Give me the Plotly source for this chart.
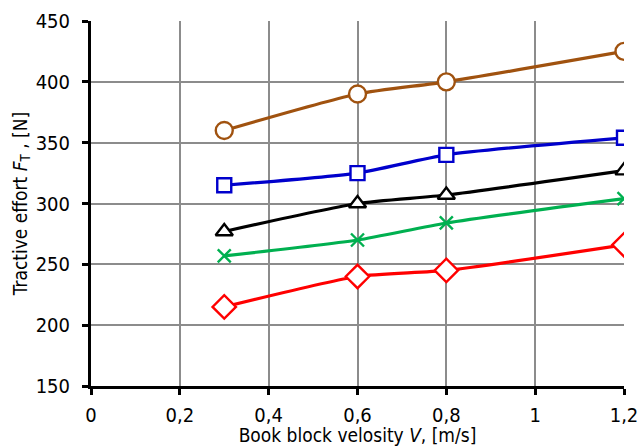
import plotly.graph_objects as go

velocity = [0.3, 0.6, 0.8, 1.2]
series_brown = [360, 390, 400, 425]
series_blue = [315, 325, 340, 354]
series_black = [277, 300, 307, 327]
series_green = [257, 270, 284, 304]
series_red = [215, 240, 245, 266]

x_ticks = [0, 0.2, 0.4, 0.6, 0.8, 1.0, 1.2]
x_tick_labels = ["0", "0,2", "0,4", "0,6", "0,8", "1", "1,2"]
y_ticks = [150, 200, 250, 300, 350, 400, 450]

FONT = "DejaVu Sans Condensed, Liberation Sans Narrow, Arial Narrow, Liberation Sans, sans-serif"

specs = [
    (series_brown, "#A0520F", "circle-open", 17),
    (series_blue, "#0000CC", "square-open", 14),
    (series_black, "#000000", "triangle-up-open", 15),
    (series_green, "#00B050", "x-thin-open", 13),
    (series_red, "#FF0000", "diamond-open", 18),
]

fig = go.Figure()
for vals, col, sym, sz in specs:
    fig.add_trace(go.Scatter(
        x=velocity, y=vals, mode="lines",
        line=dict(color=col, width=3.2, shape="spline", smoothing=0.6),
        showlegend=False, hoverinfo="skip"))
for vals, col, sym, sz in specs:
    if sym != "x-thin-open":
        fig.add_trace(go.Scatter(
            x=velocity, y=vals, mode="markers",
            marker=dict(symbol=sym.replace("-open", ""), size=sz, color="white",
                        line=dict(width=0)),
            showlegend=False, hoverinfo="skip"))
    fig.add_trace(go.Scatter(
        x=velocity, y=vals, mode="markers",
        marker=dict(symbol=sym, size=sz, color=col, line=dict(width=2.4, color=col)),
        showlegend=False))

fig.update_layout(
    width=640, height=446,
    margin=dict(l=91, r=16, t=21, b=60),
    paper_bgcolor="white", plot_bgcolor="white",
    font=dict(family=FONT, size=20, color="black"),
    xaxis=dict(
        range=[0, 1.2], tickvals=x_ticks, ticktext=x_tick_labels,
        showgrid=True, gridcolor="#8C8C8C", gridwidth=1.5,
        showline=True, linecolor="black", linewidth=3,
        ticks="outside", ticklen=6, tickwidth=3, tickcolor="black",
        ticklabelstandoff=3,
        zeroline=False, automargin=False,
        title=dict(text="Book block velosity <i>V</i>, [m/s]", standoff=3,
                   font=dict(family=FONT, size=19)),
    ),
    yaxis=dict(
        range=[150, 450], tickvals=y_ticks,
        showgrid=True, gridcolor="#8C8C8C", gridwidth=1.5,
        showline=True, linecolor="black", linewidth=3,
        ticks="outside", ticklen=6, tickwidth=3, tickcolor="black",
        ticklabelstandoff=8,
        zeroline=False, automargin=False,
        title=dict(text="Tractive effort <i>F</i><sub>T</sub> , [N]", standoff=4,
                   font=dict(family=FONT, size=19)),
    ),
)

fig.write_html("out.html", config={"displayModeBar": False},
               post_script="document.body.style.margin='0px';document.body.style.overflow='hidden';")
